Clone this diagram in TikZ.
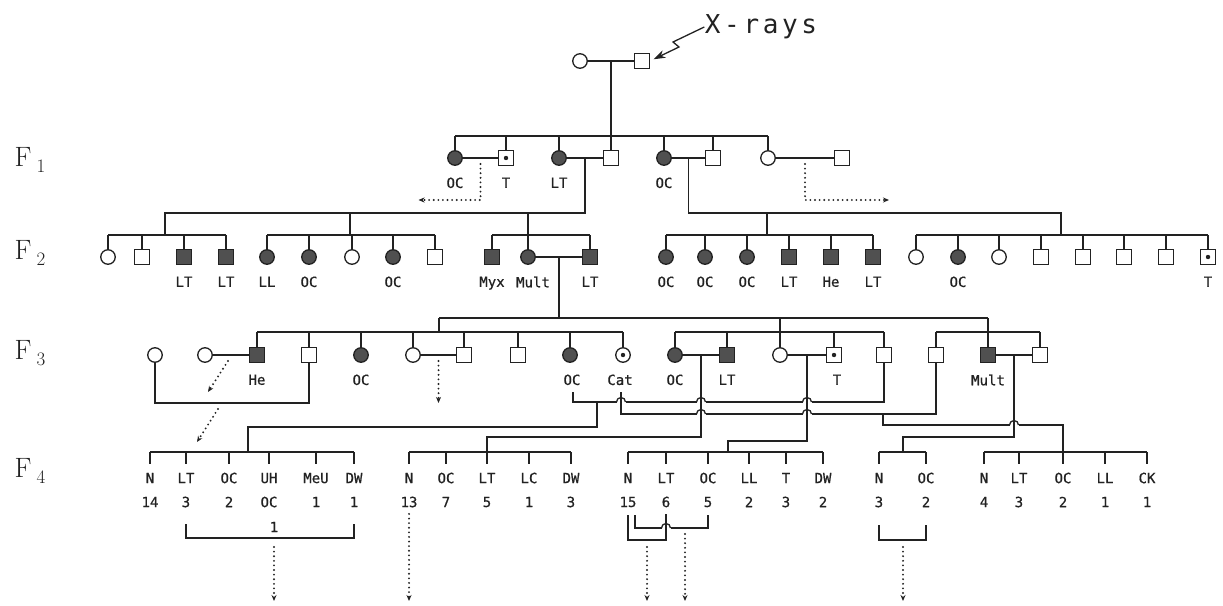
\documentclass[tikz,border=0pt]{standalone}
\usepackage{fontspec}
\usetikzlibrary{arrows.meta,calc}
\newfontfamily\labmono[FakeBold=0.7]{DejaVu Sans Mono}
\newfontfamily\raymono[LetterSpace=14]{DejaVu Sans Mono}
\newcommand{\pedlab}{\labmono\fontsize{14}{15}\selectfont}
\newcommand{\genlab}[1]{\fontsize{28}{30}\selectfont F\hspace{5pt}\raisebox{-6pt}{\fontsize{19}{19}\selectfont #1}}
% a gap in a horizontal line, bridged by \hoparc
\newcommand{\hopat}[2]{-- (#1-4.5,#2) (#1+4.5,#2)}
\newcommand{\hoparc}[2]{\draw (#1-4.5,#2) arc[start angle=180,end angle=360,radius=4.5];}
\definecolor{ink}{HTML}{222222}
\definecolor{shade}{HTML}{505050}
\tikzset{
  person/.style={draw=ink, fill=white, inner sep=0pt, minimum size=14.5pt},
  male/.style={person, rectangle},
  female/.style={person, circle},
  hit/.style={fill=shade},
  core/.style={path picture={\fill[ink] (path picture bounding box.center) circle (2.2pt);}},
  tag/.style={font=\pedlab, text=ink, inner sep=0pt},
  every label/.style={tag},
  label distance=11pt,
  offs/.style={line width=2.1pt, line cap=round, dash pattern=on 0pt off 4.6pt,
    -{Stealth[length=6pt,width=5pt]}},
}
\begin{document}
\begin{tikzpicture}[x=1pt,y=-1pt,line width=1.3pt,color=ink]
\useasboundingbox (0,0) rectangle (1223,605);

% generation labels
\node (gen1) at (30,160) {\genlab{1}};
\node (gen2) at (30,253) {\genlab{2}};
\node (gen3) at (30,353) {\genlab{3}};
\node (gen4) at (30,471) {\genlab{4}};

% irradiated parents
\node[female] (i1) at (580,61) {};
\node[male] (i2) at (642,61) {};
\draw (i1) -- (i2);
\coordinate (j0) at (611,61);
\node[font=\raymono\fontsize{26}{28}\selectfont, inner sep=0pt] (xr) at (761,27) {X-rays};
\draw[-{Stealth[length=12pt,width=8pt]}, shorten >=4pt] (xr.west) -- (673,42) -- (679,47) -- (i2.east);

% F1
\node[female,hit,label=below:OC] (f1a) at (455,158) {};
\node[male,core,label=below:T] (f1b) at (506,158) {};
\node[female,hit,label=below:LT] (f1c) at (559,158) {};
\node[male] (f1d) at (611,158) {};
\node[female,hit,label=below:OC] (f1e) at (664,158) {};
\node[male] (f1f) at (713,158) {};
\node[female] (f1g) at (768,158) {};
\node[male] (f1h) at (842,158) {};
\coordinate (s1) at (0,136);
\draw (j0) -- (j0 |- s1);
\draw (f1a.north |- s1) -- (f1g.north |- s1);
\foreach \p in {f1a,f1b,f1c,f1d,f1e,f1f,f1g}
  \draw (\p.north) -- (\p.north |- s1);
\draw (f1a) -- (f1b);
\draw (f1c) -- (f1d);
\draw (f1e) -- (f1f);
\draw (f1g) -- (f1h);
\coordinate (u1) at ($(f1a)!.5!(f1b)$);
\coordinate (u2) at ($(f1c)!.5!(f1d)$);
\coordinate (u3) at ($(f1e)!.5!(f1f)$);
\coordinate (u4) at ($(f1g)!.5!(f1h)$);
\draw[offs] (u1) ++(0,6) -- ++(0,36) -- ++(-62,0);
\draw[offs] (u4) ++(0,6) -- ++(0,36) -- ++(84,0);

% F2
\node[female] (a1) at (108,257) {};
\node[male] (a2) at (142,257) {};
\node[male,hit,label=below:LT] (a3) at (184,257) {};
\node[male,hit,label=below:LT] (a4) at (226,257) {};
\node[female,hit,label=below:LL] (b1) at (267,257) {};
\node[female,hit,label=below:OC] (b2) at (309,257) {};
\node[female] (b3) at (352,257) {};
\node[female,hit,label=below:OC] (b4) at (393,257) {};
\node[male] (b5) at (435,257) {};
\node[male,hit,label=below:Myx] (c1) at (492,257) {};
\node[female,hit,label={[xshift=5pt]below:Mult}] (c2) at (528,257) {};
\node[male,hit,label=below:LT] (c3) at (590,257) {};
\node[female,hit,label=below:OC] (d1) at (666,257) {};
\node[female,hit,label=below:OC] (d2) at (705,257) {};
\node[female,hit,label=below:OC] (d3) at (747,257) {};
\node[male,hit,label=below:LT] (d4) at (789,257) {};
\node[male,hit,label=below:He] (d5) at (831,257) {};
\node[male,hit,label=below:LT] (d6) at (873,257) {};
\node[female] (e1) at (916,257) {};
\node[female,hit,label=below:OC] (e2) at (958,257) {};
\node[female] (e3) at (999,257) {};
\node[male] (e4) at (1041,257) {};
\node[male] (e5) at (1083,257) {};
\node[male] (e6) at (1124,257) {};
\node[male] (e7) at (1166,257) {};
\node[male,core,label=below:T] (e8) at (1208,257) {};
\coordinate (t2) at (0,213);
\coordinate (s2) at (0,235);
\coordinate (ta) at (165,213);
\coordinate (tb) at (350,213);
\coordinate (td) at (767,213);
\coordinate (te) at (1061,213);
\draw (u2) -- (u2 |- t2) -- (ta) -- (ta |- s2);
\draw (tb) -- (tb |- s2);
\draw (c2 |- t2) -- (c2 |- s2);
\draw (u3) -- (u3 |- t2) -- (te) -- (te |- s2);
\draw (td) -- (td |- s2);
\draw (a1.north |- s2) -- (a4.north |- s2);
\draw (b1.north |- s2) -- (b5.north |- s2);
\draw (c1.north |- s2) -- (c3.north |- s2);
\draw (d1.north |- s2) -- (d6.north |- s2);
\draw (e1.north |- s2) -- (e8.north |- s2);
\foreach \p in {a1,a2,a3,a4,b1,b2,b3,b4,b5,c1,c2,c3,d1,d2,d3,d4,d5,d6,e1,e2,e3,e4,e5,e6,e7,e8}
  \draw (\p.north) -- (\p.north |- s2);
\draw (c2) -- (c3);
\coordinate (u5) at ($(c2)!.5!(c3)$);

% F3
\node[female] (h1) at (155,355) {};
\node[female] (h2) at (205,355) {};
\node[male,hit,label=below:He] (h3) at (257,355) {};
\node[male] (h4) at (309,355) {};
\node[female,hit,label=below:OC] (h5) at (361,355) {};
\node[female] (h6) at (413,355) {};
\node[male] (h7) at (464,355) {};
\node[male] (h8) at (518,355) {};
\node[female,hit,label={[xshift=2pt]below:OC}] (h9) at (570,355) {};
\node[female,core,label={[xshift=-3pt]below:Cat}] (h10) at (623,355) {};
\node[female,hit,label=below:OC] (k1) at (675,355) {};
\node[male,hit,label=below:LT] (k2) at (727,355) {};
\node[female] (k3) at (780,355) {};
\node[male,core,label={[xshift=3pt]below:T}] (k4) at (834,355) {};
\node[male] (k5) at (884,355) {};
\node[male] (m1) at (936,355) {};
\node[male,hit,label=below:Mult] (m2) at (988,355) {};
\node[male] (m3) at (1040,355) {};
\coordinate (t3) at (0,318);
\coordinate (s3) at (0,332);
\coordinate (tf) at (439,318);
\draw (u5) -- (u5 |- t3);
\draw (tf) -- (m2.north |- t3);
\draw (tf) -- (tf |- s3);
\draw (k3.north) -- (k3.north |- t3);
\draw (m2.north) -- (m2.north |- t3);
\draw (h3.north |- s3) -- (h10.north |- s3);
\draw (k1.north |- s3) -- (k5.north |- s3);
\draw (m1.north |- s3) -- (m3.north |- s3);
\foreach \p in {h3,h4,h5,h6,h7,h8,h9,h10,k1,k2,k4,k5,m1,m3}
  \draw (\p.north) -- (\p.north |- s3);
\draw (h2) -- (h3);
\draw (h6) -- (h7);
\draw (k1) -- (k2);
\draw (k3) -- (k4);
\draw (m2) -- (m3);
\draw (h1.south) -- (h1.south |- 0,403) -- (h4.south |- 0,403) -- (h4.south);
\coordinate (v1) at (221,403);
\draw[offs] ($(h2)!.5!(h3)$) ++(-3,6) -- ++(-20,31);
\draw[offs] (v1) ++(-3,6) -- ++(-21,33);
\draw[offs] ($(h6)!.5!(h7)$) ++(0,6) -- ++(0,42);

% unions drawn below the row
\coordinate (q1) at (573,392);
\coordinate (q2) at (621,392);
\draw (q1) -- (573,402) \hopat{621}{402} \hopat{701}{402} \hopat{807}{402} -- (k5.south |- 0,402) -- (k5.south);
\draw (q2) -- (621,414) \hopat{701}{414} \hopat{807}{414} -- (m1.south |- 0,414) -- (m1.south);
\foreach \x/\y in {621/402,701/402,807/402,701/414,807/414,1014/425} {\hoparc{\x}{\y}}

% descents to F4
\coordinate (s4) at (0,452);
\draw (597,402) -- (597,427) -- (248,427) -- (248,452);
\draw ($(k1)!.5!(k2)$) -- (701,437) -- (487,437) -- (487,452);
\draw ($(k3)!.5!(k4)$) -- (807,441) -- (728,441) -- (728,452);
\draw ($(m2)!.5!(m3)$) -- (1014,437) -- (903,437) -- (903,452);
\draw (883,414) -- (883,425) \hopat{1014}{425} -- (1063,425) -- (1063,452);

% F4 groups
\foreach \x/\a/\b [count=\i] in {150/N/14,186/LT/3,229/OC/2,269/UH/OC,316/MeU/1,354/DW/1}{
  \draw (\x,452) -- (\x,464);
  \node[tag] (ga\i) at (\x,478) {\a};
  \node[tag] (gan\i) at (\x,502) {\b};
}
\draw (ga1 |- s4) -- (ga6 |- s4);
\foreach \x/\a/\b [count=\i] in {409/N/13,446/OC/7,487/LT/5,529/LC/1,571/DW/3}{
  \draw (\x,452) -- (\x,464);
  \node[tag] (gb\i) at (\x,478) {\a};
  \node[tag] (gbn\i) at (\x,502) {\b};
}
\draw (gb1 |- s4) -- (gb5 |- s4);
\foreach \x/\a/\b [count=\i] in {628/N/15,666/LT/6,708/OC/5,749/LL/2,786/T/3,823/DW/2}{
  \draw (\x,452) -- (\x,464);
  \node[tag] (gc\i) at (\x,478) {\a};
  \node[tag] (gcn\i) at (\x,502) {\b};
}
\draw (gc1 |- s4) -- (gc6 |- s4);
\foreach \x/\a/\b [count=\i] in {879/N/3,926/OC/2}{
  \draw (\x,452) -- (\x,464);
  \node[tag] (gd\i) at (\x,478) {\a};
  \node[tag] (gdn\i) at (\x,502) {\b};
}
\draw (gd1 |- s4) -- (gd2 |- s4);
\foreach \x/\a/\b [count=\i] in {984/N/4,1019/LT/3,1063/OC/2,1105/LL/1,1147/CK/1}{
  \draw (\x,452) -- (\x,464);
  \node[tag] (ge\i) at (\x,478) {\a};
  \node[tag] (gen\i) at (\x,502) {\b};
}
\draw (ge1 |- s4) -- (ge5 |- s4);

% pooled offspring
\draw (ga2 |- 0,524) -- (ga2 |- 0,538) -- (ga6 |- 0,538) -- (ga6 |- 0,524);
\node[tag] (pool1) at (274,527) {1};
\draw[offs] (274,547) -- (274,601);
\draw[offs] (gbn1.south) ++(0,6) -- (gbn1 |- 0,601);
\draw (gc1 |- 0,515) -- (gc1 |- 0,540) -- (gc2 |- 0,540) -- (gc2 |- 0,514);
\draw (635,515) -- (635,528) \hopat{666}{528} -- (gc3 |- 0,528) -- (gc3 |- 0,515);
\hoparc{666}{528}
\draw[offs] (647,547) -- (647,601);
\draw[offs] (685,534) -- (685,601);
\draw (gd1 |- 0,525) -- (gd1 |- 0,540) -- (gd2 |- 0,540) -- (gd2 |- 0,525);
\draw[offs] (903,547) -- (903,601);
\end{tikzpicture}
\end{document}
